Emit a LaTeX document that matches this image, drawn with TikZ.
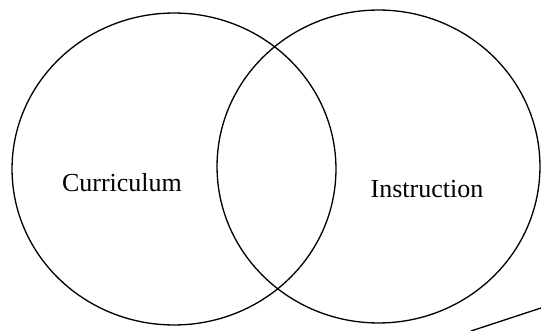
\documentclass[tikz,border=0pt]{standalone}
\usepackage{fontspec}
\setmainfont{Liberation Serif}
\usepackage{tikz}
\usetikzlibrary{positioning}

\tikzset{
  setring/.style={draw=black, line width=0.75pt},
  setlabel/.style={font=\fontsize{14.8}{17}\selectfont, text=black, anchor=base, inner sep=0pt}
}

\begin{document}
\begin{tikzpicture}[x=0.02cm, y=-0.02cm]
  \useasboundingbox (0,0) rectangle (541,331);
  % Curriculum
  \draw[setring] (174,169) ellipse [x radius=3.24cm, y radius=3.12cm];
  \node[setlabel] (curriculum) at (122,192) {Curriculum};
  % Instruction
  \draw[setring] (378.5,166.5) ellipse [x radius=3.23cm, y radius=3.13cm];
  \node[setlabel] (instruction) at (427,197) {Instruction};
  % stray line, bottom right
  \coordinate (lineA) at (471,331);
  \coordinate (lineB) at (541,308);
  \draw[setring] (lineA) -- (lineB);
\end{tikzpicture}
\end{document}
